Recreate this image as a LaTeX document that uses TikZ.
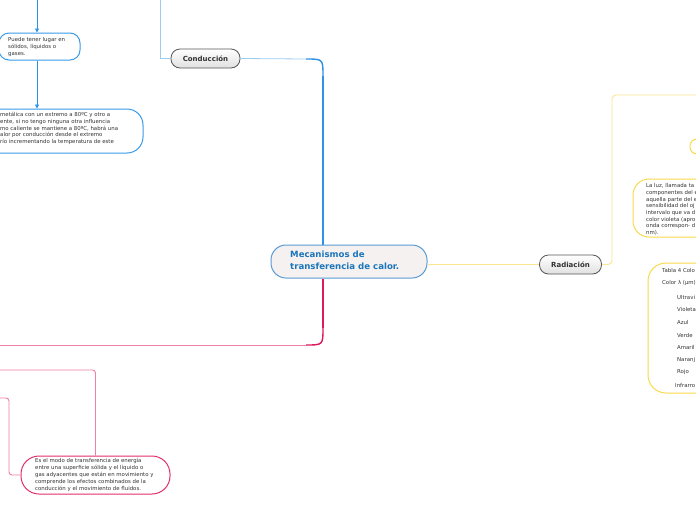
\documentclass[tikz,border=0pt]{standalone}
\usepackage{fontspec}
\setmainfont{DejaVu Sans}
\usetikzlibrary{arrows.meta}
\definecolor{bluemain}{HTML}{2E93E6}
\definecolor{bluenode}{HTML}{3A9AE8}
\definecolor{lightblue}{HTML}{9CCDF3}
\definecolor{centerborder}{HTML}{5B9BD5}
\definecolor{centerfill}{HTML}{F5F1F0}
\definecolor{titleblue}{HTML}{1B75BB}
\definecolor{crimson}{HTML}{E0195A}
\definecolor{pinknode}{HTML}{E2306A}
\definecolor{pinkline}{HTML}{F07FA4}
\definecolor{yellownode}{HTML}{F9DA4A}
\definecolor{yellowline}{HTML}{FBE590}
\definecolor{grayborder}{HTML}{555555}
\definecolor{txt}{HTML}{333333}
\tikzset{
  smalltxt/.style={font=\fontsize{5.4}{7}\selectfont, text=txt, align=left, inner sep=0pt, anchor=north west},
  topicbox/.style={draw=grayborder, line width=0.8pt, rounded corners=9pt, top color=white, bottom color=black!12,
     font=\fontsize{7}{8}\selectfont\bfseries, text=txt, inner sep=0pt},
  bluebox/.style={draw=bluenode, line width=1pt, fill=white},
  pinkbox/.style={draw=pinknode, line width=1pt, fill=white},
  yellowbox/.style={draw=yellownode, line width=1pt, fill=white},
  barrow/.style={draw=bluemain, line width=0.9pt, -{Triangle[width=4pt,length=4pt]}},
}
\begin{document}
\begin{tikzpicture}[x=1pt,y=-1pt]
\useasboundingbox (0,0) rectangle (696,520);
\fill[white] (0,0) rectangle (696,520);

% central node
\node[draw=centerborder, line width=1pt, fill=centerfill, rounded corners=15pt, minimum width=156pt, minimum height=33pt, inner sep=0pt] (c) at (349,261.5) {};
\node[anchor=north west, align=left, inner sep=0pt, text=titleblue, font=\fontsize{8.6}{12}\selectfont\bfseries] (ct) at (290,250.5) {Mecanismos de\\transferencia de calor.};

% Conduccion branch
\node[topicbox, minimum width=69pt, minimum height=19pt] (cond) at (205.5,58.5) {Conducción};
\coordinate (m1) at (323,76);
\coordinate (m2) at (306,59);
\coordinate (c0) at (160,0);
\draw[bluemain, line width=2.4pt] (c.north -| m1) -- (m1);
\draw[bluemain, line width=1.4pt] (m1) .. controls (323,59) .. (m2);
\draw[lightblue, line width=0.8pt] (m2) -- (cond.east);
\draw[lightblue, line width=0.8pt] (cond.west) -| (c0);

% blue nodes on the left
\coordinate (b0) at (37,0);
\node[bluebox, rounded corners=10pt, minimum width=81pt, minimum height=27pt, inner sep=0pt] (pb) at (39.5,46.5) {};
\node[smalltxt] (pbt) at (8,37.3) {Puede tener lugar en\\sólidos, líquidos o\\gases.};
\node[bluebox, rounded corners=16pt, minimum width=203pt, minimum height=44pt, inner sep=0pt] (n2) at (41.5,131) {};
\node[smalltxt, font=\fontsize{5.4}{6.7}\selectfont] (n2t) at (0,112.3) {metálica con un extremo a 80ºC y otro a\\ente, si no tengo ninguna otra influencia\\mo caliente se mantiene a 80ºC, habrá una\\alor por conducción desde el extremo\\río incrementando la temperatura de este};
\draw[barrow] (b0) -- (pb.north -| b0);
\draw[barrow] (pb.south -| b0) -- (n2.north -| b0);

% pink branch
\coordinate (p1) at (323,328);
\coordinate (p2) at (306,345);
\coordinate (p3) at (0,345);
\draw[crimson, line width=2.4pt] (c.south -| p1) -- (p1);
\draw[crimson, line width=1.4pt] (p1) .. controls (323,345) .. (p2);
\draw[pinkline, line width=0.9pt] (p2) -- (p3);

\node[pinkbox, rounded corners=18pt, minimum width=149pt, minimum height=38pt, inner sep=0pt] (pn) at (95.5,475) {};
\node[smalltxt] (pnt) at (35,457.8) {Es el modo de transferencia de energía\\entre una superficie sólida y el líquido o\\gas adyacentes que están en movimiento y\\comprende los efectos combinados de la\\conducción y el movimiento de fluidos.};
\coordinate (q0) at (0,370);
\coordinate (q1) at (95.5,370);
\coordinate (r0) at (0,398);
\coordinate (r1) at (9,398);
\draw[pinkline, line width=0.9pt, rounded corners=3pt] (q0) -- (q1) -- (pn.north);
\draw[pinkline, line width=0.9pt, rounded corners=3pt] (r0) -- (r1) -- (r1 |- pn.west) -- (pn.west);

% Radiacion branch
\node[topicbox, minimum width=62pt, minimum height=19pt] (rad) at (570.5,264.5) {Radiación};
\draw[yellowline, line width=0.9pt] (rad.west -| c.east) -- (rad.west);
\coordinate (y1) at (612,95);
\coordinate (y0) at (696,95);
\draw[yellowline, line width=0.9pt, rounded corners=4pt] (rad.east) -| (y1) -- (y0);

\node[yellowbox, rounded corners=7pt, minimum width=16pt, minimum height=15pt, inner sep=0pt] (ys) at (698,146.5) {};

\node[yellowbox, rounded corners=16pt, minimum width=126pt, minimum height=58pt, inner sep=0pt] (luz) at (696,208) {};
\node[smalltxt, font=\fontsize{5.4}{6.7}\selectfont] (luzt) at (646,183.3) {La luz, llamada ta\\componentes del e\\aquella parte del e\\sensibilidad del oj\\intervalo que va d\\color violeta (apro\\onda correspon- d\\nm).};

\node[yellowbox, rounded corners=18pt, minimum width=112pt, minimum height=130pt, inner sep=0pt] (tab) at (704,328) {};
\tikzset{tabtxt/.style={font=\fontsize{5.4}{7}\selectfont, text=txt, inner sep=0pt, anchor=west}}
\node[tabtxt] (t1) at (662,270) {Tabla 4 Colo};
\node[tabtxt] (t2) at (662,283) {Color λ (μm)};
\node[tabtxt] (t3) at (677,297) {Ultravi};
\node[tabtxt] (t4) at (677,309) {Violeta};
\node[tabtxt] (t5) at (677,322) {Azul};
\node[tabtxt] (t6) at (677,335) {Verde};
\node[tabtxt] (t7) at (677,347) {Amaril};
\node[tabtxt] (t8) at (677,360) {Naranj};
\node[tabtxt] (t9) at (677,372) {Rojo};
\node[tabtxt] (t10) at (675,385) {Infrarro};
\end{tikzpicture}
\end{document}
